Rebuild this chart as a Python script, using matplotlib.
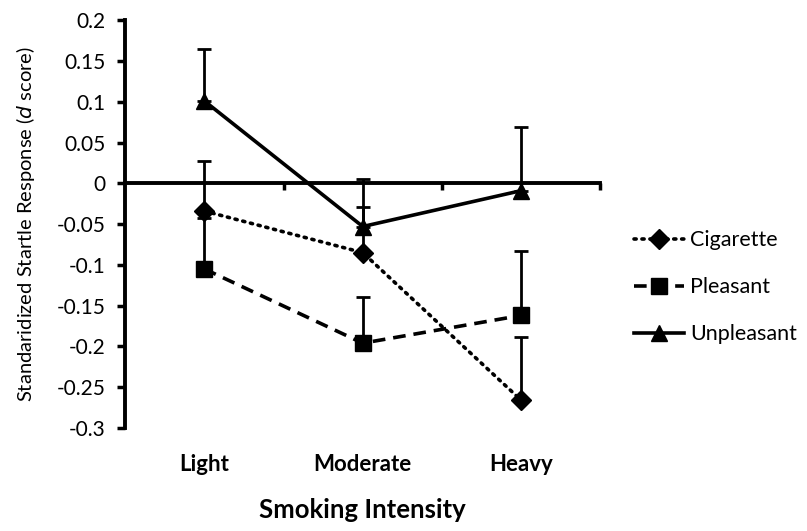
import matplotlib.pyplot as plt
from matplotlib.transforms import blended_transform_factory

categories = ["Light", "Moderate", "Heavy"]
cigarette = [-0.034, -0.085, -0.266]
cigarette_err = [0.061, 0.056, 0.077]
pleasant = [-0.105, -0.196, -0.162]
pleasant_err = [0.063, 0.057, 0.079]
unpleasant = [0.101, -0.053, -0.009]
unpleasant_err = [0.064, 0.058, 0.078]

plt.rcParams["font.family"] = ["Lato", "DejaVu Sans"]

fig = plt.figure(figsize=(8.07, 5.31), dpi=100)
ax = fig.add_axes([0.155, 0.194, 0.589, 0.768])

x = list(range(len(categories)))
series = [
    ("Cigarette", cigarette, cigarette_err, "D", (0, (0.6, 1.6)), 10),
    ("Pleasant", pleasant, pleasant_err, "s", (0, (3.5, 2.2)), 11),
    ("Unpleasant", unpleasant, unpleasant_err, "^", "-", 11.5),
]
for name, vals, err, mk, ls, ms in series:
    ax.errorbar(x, vals, yerr=[[0] * len(err), err], fmt="none", ecolor="black",
                elinewidth=2, capsize=5, capthick=2, zorder=2)
    line, = ax.plot(x, vals, color="black", linestyle=ls, linewidth=2.6,
                    marker=mk, markersize=ms, label=name, zorder=3)
    if ls != "-":
        line.set_dash_capstyle("round" if mk == "D" else "butt")

ax.set_xlim(-0.5, 2.5)
ax.set_ylim(-0.3, 0.2)
ax.set_yticks([0.2, 0.15, 0.1, 0.05, 0, -0.05, -0.1, -0.15, -0.2, -0.25, -0.3])
ax.set_yticklabels(["0.2", "0.15", "0.1", "0.05", "0", "-0.05", "-0.1", "-0.15",
                    "-0.2", "-0.25", "-0.3"])
ax.tick_params(axis="y", direction="out", length=6, width=2.5, labelsize=15, pad=8)

ax.spines["bottom"].set_position(("data", 0))
ax.spines["bottom"].set_linewidth(2.8)
ax.spines["left"].set_linewidth(2.8)
ax.spines["top"].set_visible(False)
ax.spines["right"].set_visible(False)
ax.set_xticks([0.5, 1.5, 2.5])
ax.set_xticklabels([])
ax.tick_params(axis="x", direction="out", length=5, width=2.5)

trans = blended_transform_factory(ax.transData, ax.transAxes)
for i, c in enumerate(categories):
    ax.text(i, -0.09, c, transform=trans, ha="center", va="center",
            fontsize=16, fontweight="bold")
ax.text(0.5, -0.2, "Smoking Intensity", transform=ax.transAxes, ha="center",
        va="center", fontsize=18.5, fontweight="bold")

ax.set_ylabel(r"Standaridized Startle Response ($\mathit{d}$ score)", fontsize=14.5,
              labelpad=14)

ax.legend(loc="center left", bbox_to_anchor=(1.03, 0.345), frameon=False,
          fontsize=15.5, handlelength=2.3, handletextpad=0.3, labelspacing=1.25)

fig.savefig("out.png", dpi=100)
